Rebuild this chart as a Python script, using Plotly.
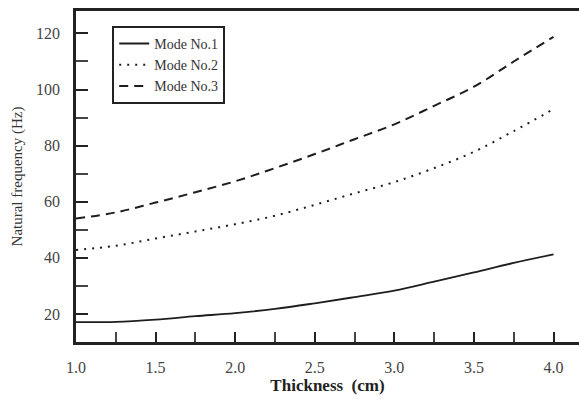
import plotly.graph_objects as go

thickness = [1.0, 1.25, 1.5, 1.75, 2.0, 2.25, 2.5, 2.75, 3.0, 3.25, 3.5, 3.75, 4.0]
mode1 = [17.1, 17.2, 18.0, 19.2, 20.3, 21.8, 23.8, 26.0, 28.3, 31.5, 34.8, 38.2, 41.2]
mode2 = [42.8, 44.3, 46.9, 49.4, 52.0, 55.0, 58.9, 63.0, 67.0, 72.0, 77.8, 85.2, 93.0]
mode3 = [54.0, 56.2, 59.7, 63.4, 67.3, 72.0, 77.0, 82.3, 87.6, 94.2, 101.0, 110.0, 118.8]
names = ["Mode No.1", "Mode No.2", "Mode No.3"]

serif = "Liberation Serif, Times New Roman, serif"
ink = "#1e1e1e"

fig = go.Figure()
fig.add_trace(go.Scatter(x=thickness, y=mode1, name=names[0], mode="lines",
                         line=dict(color=ink, width=1.8, dash="solid", shape="spline")))
fig.add_trace(go.Scatter(x=thickness, y=mode2, name=names[1], mode="lines",
                         line=dict(color=ink, width=2, dash="2px,6px", shape="spline")))
fig.add_trace(go.Scatter(x=thickness, y=mode3, name=names[2], mode="lines",
                         line=dict(color=ink, width=2, dash="9px,6px", shape="spline")))

fig.update_layout(
    width=579, height=400,
    margin=dict(l=76, r=0, t=11, b=58),
    paper_bgcolor="white", plot_bgcolor="white",
    font=dict(family=serif, color="#333"),
    showlegend=True,
    legend=dict(x=0.072, y=0.955, xanchor="left", yanchor="top",
                bordercolor="#222", borderwidth=2, bgcolor="white",
                font=dict(family=serif, size=14, color="#333"),
                tracegroupgap=0, itemwidth=30),
    xaxis=dict(range=[1.0, 4.16], tick0=1.0, dtick=0.5, tickformat=".1f",
               ticks="inside", ticklen=10, tickwidth=2, tickcolor="#222",
               minor=dict(dtick=0.25, ticks="inside", ticklen=10, tickwidth=1.5, tickcolor="#444"),
               showline=True, linecolor="#222", linewidth=2.5, mirror=True,
               showgrid=False, zeroline=False, ticklabelstandoff=9,
               tickfont=dict(family=serif, size=16, color="#444"),
               title=dict(text="<b>Thickness  (cm)</b>", standoff=2,
                          font=dict(family=serif, size=17, color="#222"))),
    yaxis=dict(range=[10, 128], tick0=0, dtick=20,
               ticks="inside", ticklen=12, tickwidth=2, tickcolor="#222",
               minor=dict(dtick=10, ticks="inside", ticklen=12, tickwidth=1.5, tickcolor="#444"),
               showline=True, linecolor="#222", linewidth=2.5, mirror=False,
               showgrid=False, zeroline=False, ticklabelstandoff=10,
               tickfont=dict(family=serif, size=16, color="#444"),
               title=dict(text="Natural frequency (Hz)", standoff=10,
                          font=dict(family=serif, size=15, color="#333"))),
)

fig.write_html("out.html")
